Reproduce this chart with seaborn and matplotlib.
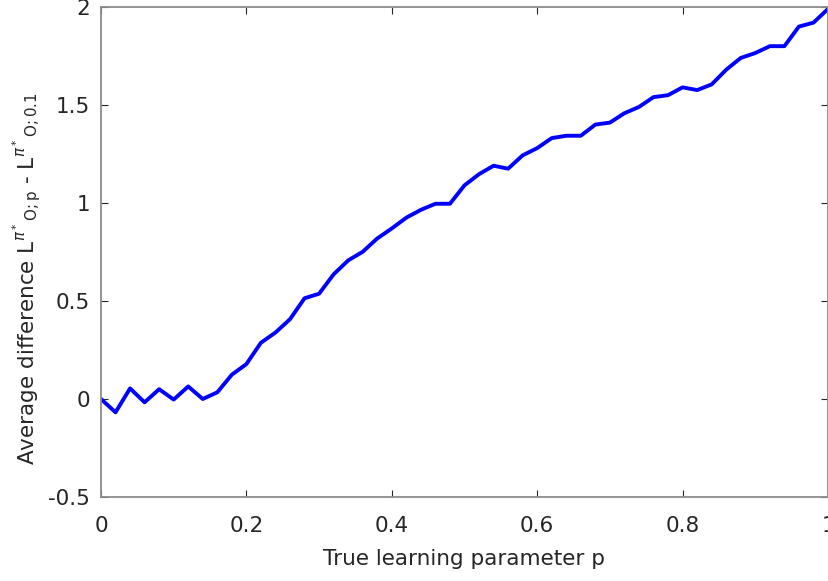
import numpy as np
import pandas as pd
import matplotlib
matplotlib.use("Agg")
import matplotlib.pyplot as plt
import seaborn as sns

p_values = [0.00, 0.02, 0.04, 0.06, 0.08, 0.10, 0.12, 0.14, 0.16, 0.18,
            0.20, 0.22, 0.24, 0.26, 0.28, 0.30, 0.32, 0.34, 0.36, 0.38,
            0.40, 0.42, 0.44, 0.46, 0.48, 0.50, 0.52, 0.54, 0.56, 0.58,
            0.60, 0.62, 0.64, 0.66, 0.68, 0.70, 0.72, 0.74, 0.76, 0.78,
            0.80, 0.82, 0.84, 0.86, 0.88, 0.90, 0.92, 0.94, 0.96, 0.98, 1.00]
avg_diff = [0.00, -0.068, 0.054, -0.017, 0.050, -0.003, 0.064, 0.000, 0.034, 0.124,
            0.178, 0.287, 0.339, 0.407, 0.514, 0.537, 0.636, 0.707, 0.751, 0.819,
            0.870, 0.925, 0.965, 0.996, 0.996, 1.090, 1.147, 1.190, 1.175, 1.243,
            1.280, 1.331, 1.343, 1.343, 1.400, 1.410, 1.458, 1.490, 1.540, 1.550,
            1.590, 1.576, 1.605, 1.680, 1.740, 1.765, 1.800, 1.800, 1.900, 1.920, 1.990]
x_ticks = [0, 0.2, 0.4, 0.6, 0.8, 1]
x_tick_labels = ["0", "0.2", "0.4", "0.6", "0.8", "1"]
y_ticks = [-0.5, 0, 0.5, 1, 1.5, 2]
y_tick_labels = ["-0.5", "0", "0.5", "1", "1.5", "2"]

df = pd.DataFrame({"p": p_values, "diff": avg_diff})

sns.set_style("white")
plt.rcParams["font.family"] = ["DejaVu Sans"]
plt.rcParams["mathtext.fontset"] = "dejavusans"

fig = plt.figure(figsize=(8.29, 5.81), dpi=100)
ax = fig.add_axes([0.1218, 0.1446, 0.8770, 0.8434])

sns.lineplot(data=df, x="p", y="diff", ax=ax, color="#0000ff", linewidth=2.8)

ax.set_xlim(0, 1)
ax.set_ylim(-0.5, 2)
ax.set_xticks(x_ticks)
ax.set_xticklabels(x_tick_labels)
ax.set_yticks(y_ticks)
ax.set_yticklabels(y_tick_labels)

text_color = "#262626"
for s in ax.spines.values():
    s.set_visible(True)
    s.set_color("#8c8c8c")
    s.set_linewidth(1.3)
ax.tick_params(direction="in", length=5, width=0.8, color="#262626",
               labelsize=15.5, labelcolor=text_color, top=True, right=True,
               bottom=True, left=True)
ax.tick_params(axis="x", pad=14)
ax.tick_params(axis="y", pad=8)

ax.set_xlabel("True learning parameter p", fontsize=15.5, color=text_color, labelpad=9)
ax.set_ylabel(r"Average difference L$^{\pi^*}{}_{\mathrm{O{;}p}}$ - L$^{\pi^*}{}_{\mathrm{O{;}0.1}}$",
              fontsize=15.5, color=text_color)
ax.yaxis.set_label_coords(-0.078, 0.446)

fig.savefig("out.png", dpi=100)
